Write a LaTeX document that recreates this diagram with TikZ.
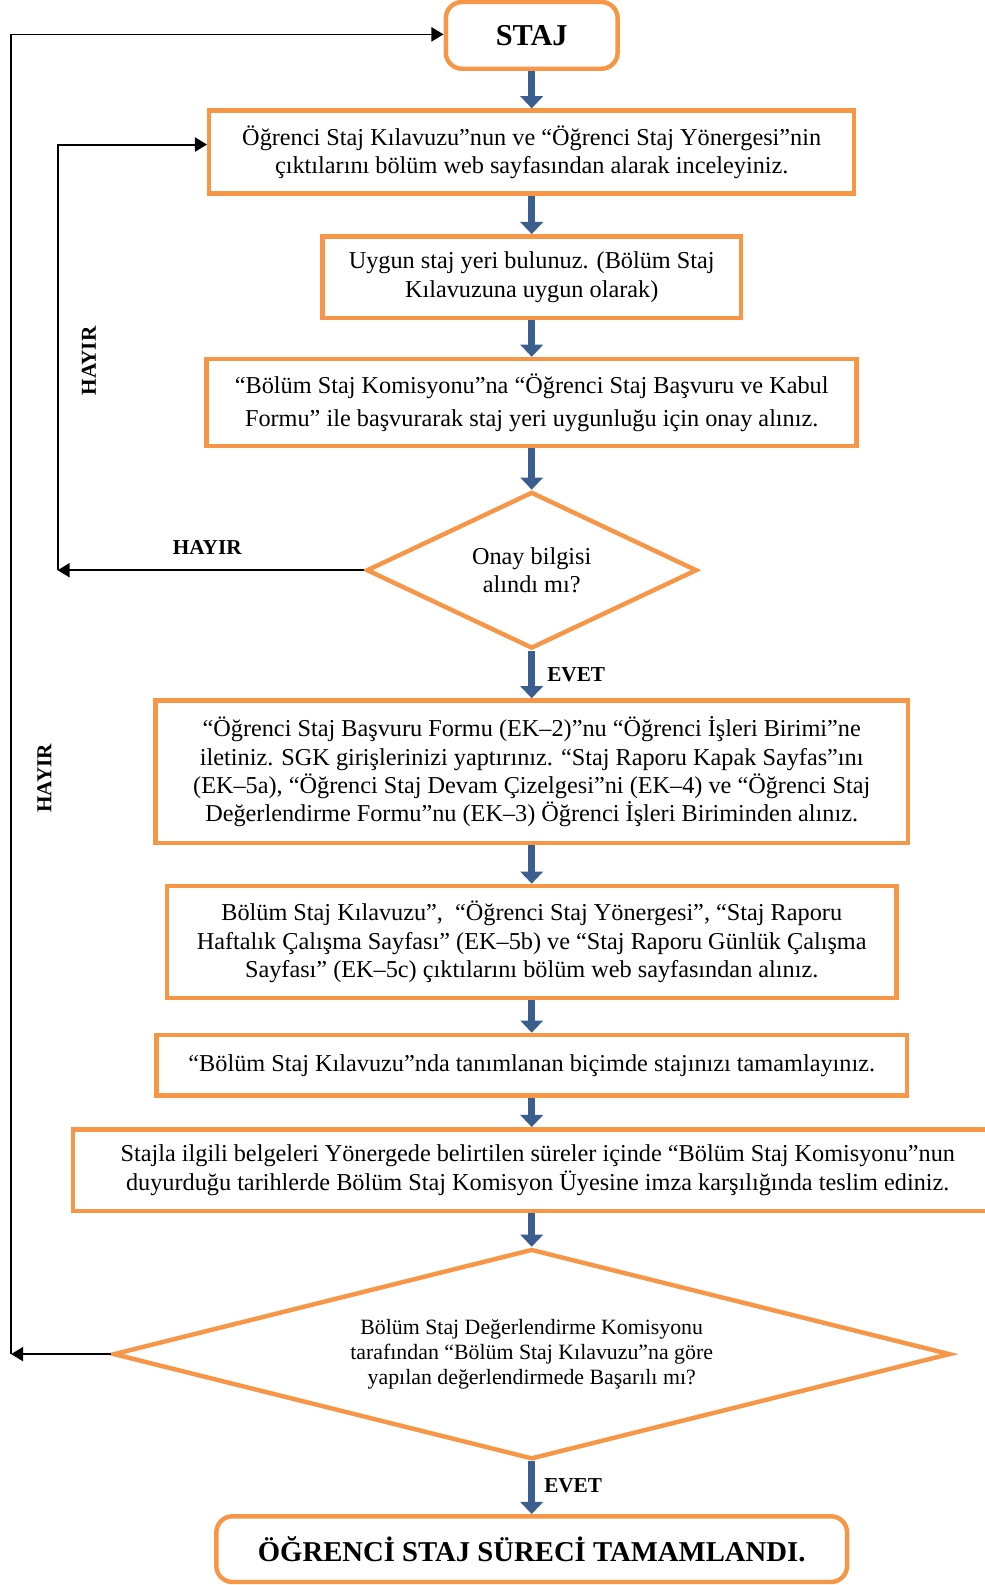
\documentclass[tikz,border=0pt]{standalone}
\usepackage{fontspec}
\setmainfont{Liberation Serif}
\usetikzlibrary{positioning,shapes.geometric,arrows.meta}
\definecolor{stajorange}{RGB}{247,150,70}
\definecolor{stajblue}{RGB}{58,95,142}
\tikzset{
  kutu/.style={draw=stajorange, line width=2.2pt, align=center, inner sep=2pt,
    font=\fontsize{12}{14}\selectfont},
  ucbox/.style={kutu, rounded corners=8pt},
  karar/.style={kutu, diamond, inner sep=0pt},
  akis/.style={draw=stajblue, line width=3.5pt, -{Triangle[width=11pt,length=6pt]}},
  donus/.style={draw=black, line width=1pt, -{Triangle[width=7pt,length=6pt]}},
  etiket/.style={font=\bfseries\fontsize{10.5}{12}\selectfont},
}

\begin{document}
\begin{tikzpicture}[x=0.5pt,y=-0.5pt]
			\useasboundingbox (0,0) rectangle (974,1568);

			\node[ucbox, minimum width=85pt, minimum height=33pt,
			  font=\bfseries\fontsize{15}{18}\selectfont]          (staj) at (526,35) {STAJ};
			\node[kutu, below=18.5pt of staj, minimum width=319pt, minimum height=41pt] (ogr)
			  {Öğrenci Staj Kılavuzu”nun ve “Öğrenci Staj Yönergesi”nin\\
			   çıktılarını bölüm web sayfasından alarak inceleyiniz.};
			\node[kutu, below=19pt of ogr, minimum width=207pt, minimum height=40.5pt] (yer)
			  {Uygun staj yeri bulunuz. (Bölüm Staj\\ Kılavuzuna uygun olarak)};
			\node[kutu, below=18pt of yer, minimum width=321.5pt, minimum height=43pt] (kom)
			  {“Bölüm Staj Komisyonu”na “Öğrenci Staj Başvuru ve Kabul\\[2.5pt]
			   Formu” ile başvurarak staj yeri uygunluğu için onay alınız.};
			\node[karar, below=20.5pt of kom, shape aspect=2.12,
			  minimum width=163.5pt, minimum height=77.5pt] (onay)
			  {Onay bilgisi\\ alındı mı?};
			\node[kutu, below=23.5pt of onay, minimum width=372pt, minimum height=70.5pt] (ek)
			  {“Öğrenci Staj Başvuru Formu (EK–2)”nu “Öğrenci İşleri Birimi”ne\\
			   iletiniz. SGK girişlerinizi yaptırınız. “Staj Raporu Kapak Sayfas”ını\\
			   (EK–5a), “Öğrenci Staj Devam Çizelgesi”ni (EK–4) ve “Öğrenci Staj\\
			   Değerlendirme Formu”nu (EK–3) Öğrenci İşleri Biriminden alınız.};
			\node[kutu, below=19pt of ek, minimum width=361pt, minimum height=55.5pt] (klv)
			  {Bölüm Staj Kılavuzu”,\ \ “Öğrenci Staj Yönergesi”, “Staj Raporu\\
			   Haftalık Çalışma Sayfası” (EK–5b) ve “Staj Raporu Günlük Çalışma\\
			   Sayfası” (EK–5c) çıktılarını bölüm web sayfasından alınız.};
			\node[kutu, below=16pt of klv, minimum width=371pt, minimum height=30pt] (tam)
			  {“Bölüm Staj Kılavuzu”nda tanımlanan biçimde stajınızı tamamlayınız.};
			\node[kutu, below=14.5pt of tam, minimum width=460pt, minimum height=40.5pt,
			  xshift=3pt] (tes)
			  {Stajla ilgili belgeleri Yönergede belirtilen süreler içinde “Bölüm Staj Komisyonu”nun\\
			   duyurduğu tarihlerde Bölüm Staj Komisyon Üyesine imza karşılığında teslim ediniz.};
			\node[karar, below=16.5pt of tes, xshift=-3pt, shape aspect=4.06,
			  minimum width=414pt, minimum height=104pt,
			  font=\fontsize{10.8}{12.2}\selectfont] (basari)
			  {Bölüm Staj Değerlendirme Komisyonu\\
			   tarafından “Bölüm Staj Kılavuzu”na göre\\
			   yapılan değerlendirmede Başarılı mı?};
			\node[ucbox, below=26pt of basari, minimum width=312pt, minimum height=32.5pt,
			  font=\bfseries\fontsize{14.2}{17}\selectfont] (son)
			  {ÖĞRENCİ STAJ SÜRECİ TAMAMLANDI.};

			% ana akis
			\draw[akis] (staj) -- (ogr);
			\draw[akis] (ogr) -- (yer);
			\draw[akis] (yer) -- (kom);
			\draw[akis] (kom) -- (onay);
			\draw[akis] (onay) -- (ek);
			\draw[akis] (ek) -- (klv);
			\draw[akis] (klv) -- (tam);
			\draw[akis] (tam.south) -- (tam.south |- tes.north);
			\draw[akis] (tes.south -| basari.north) -- (basari);
			\draw[akis] (basari) -- (son);

			% geri donusler
			\coordinate (ict) at (57,143);
			\coordinate (ic)  at (onay.west -| ict);
			\draw[donus] (onay.west) -- (ic);
			\draw[donus] (ic) -- (ict) -- (ict -| ogr.west);

			\coordinate (dct) at (11,34);
			\coordinate (dc)  at (basari.west -| dct);
			\draw[donus] (basari.west) -- (dc);
			\draw[donus, line width=0.8pt] (dc) -- (dct) -- (dct -| staj.west);

			\node[etiket] (h1) at (205,542) {HAYIR};
			\node[etiket, rotate=90] (h2) at (88,357) {HAYIR};
			\node[etiket, rotate=90] (h3) at (44,770) {HAYIR};
			\node[etiket] (e1) at (570,667) {EVET};
			\node[etiket] (e2) at (567,1470) {EVET};
		\end{tikzpicture}
\end{document}
